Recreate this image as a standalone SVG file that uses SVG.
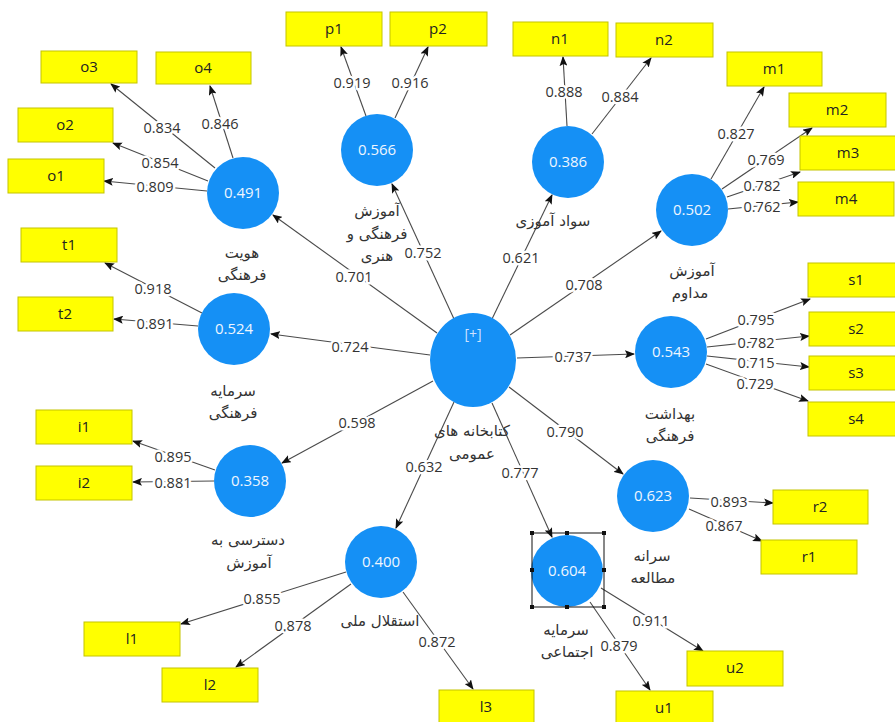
<svg xmlns="http://www.w3.org/2000/svg" width="895" height="722" viewBox="0 0 895 722">
<defs>
<marker id="ah" markerWidth="10" markerHeight="8" refX="9" refY="4" orient="auto" markerUnits="userSpaceOnUse">
<path d="M0,0 L10,4 L0,8 L2,4 Z" fill="#111"/>
</marker>
<style>
.ln{stroke:#4a4a4a;stroke-width:1.1;fill:none;marker-end:url(#ah)}
.bx rect{fill:#ffff00;stroke:#c4c400;stroke-width:1}
.bx text{font-family:"Open Sans","Noto Sans",sans-serif;font-size:15px;fill:#222;text-anchor:middle}
.lv circle,.lv ellipse{fill:#1590f5}
.lv text.v{font-family:"Open Sans","Noto Sans",sans-serif;font-size:15px;fill:#eef6ff;text-anchor:middle}
.fa{font-family:"DejaVu Sans",sans-serif;font-size:15px;fill:#333;text-anchor:middle}
.num{font-family:"Open Sans","Noto Sans",sans-serif;font-size:14.5px;fill:#333;text-anchor:middle;stroke:#fff;stroke-width:5;stroke-linejoin:round;paint-order:stroke}
.hd{fill:#111}
</style>
</defs>
<rect width="895" height="722" fill="#fff"/>

<g id="connectors">
<line class="ln" x1="437" y1="333" x2="273" y2="215"/>
<line class="ln" x1="454" y1="319" x2="392" y2="184"/>
<line class="ln" x1="492" y1="319" x2="552" y2="195"/>
<line class="ln" x1="510" y1="335" x2="661" y2="231"/>
<line class="ln" x1="517" y1="358" x2="634" y2="354"/>
<line class="ln" x1="509" y1="387" x2="623" y2="474"/>
<line class="ln" x1="492" y1="403" x2="552" y2="537"/>
<line class="ln" x1="454" y1="402" x2="396" y2="528"/>
<line class="ln" x1="433" y1="381" x2="282" y2="463"/>
<line class="ln" x1="430" y1="355" x2="271" y2="334"/>
<line class="ln" x1="215" y1="168" x2="111" y2="84"/>
<line class="ln" x1="233" y1="158" x2="210" y2="86"/>
<line class="ln" x1="208" y1="181" x2="113" y2="143"/>
<line class="ln" x1="207" y1="191" x2="104" y2="181"/>
<line class="ln" x1="366" y1="116" x2="341" y2="47"/>
<line class="ln" x1="395" y1="118" x2="428" y2="47"/>
<line class="ln" x1="567" y1="126" x2="563" y2="57"/>
<line class="ln" x1="592" y1="134" x2="651" y2="58"/>
<line class="ln" x1="711" y1="179" x2="764" y2="87"/>
<line class="ln" x1="722" y1="189" x2="812" y2="128"/>
<line class="ln" x1="727" y1="197" x2="800" y2="172"/>
<line class="ln" x1="728" y1="209" x2="798" y2="202"/>
<line class="ln" x1="202" y1="313" x2="105" y2="263"/>
<line class="ln" x1="198" y1="326" x2="114" y2="319"/>
<line class="ln" x1="215" y1="470" x2="133" y2="441"/>
<line class="ln" x1="214" y1="481" x2="133" y2="482"/>
<line class="ln" x1="346" y1="572" x2="181" y2="624"/>
<line class="ln" x1="351" y1="584" x2="236" y2="667"/>
<line class="ln" x1="403" y1="592" x2="473" y2="689"/>
<line class="ln" x1="590" y1="602" x2="650" y2="690"/>
<line class="ln" x1="601" y1="588" x2="703" y2="651"/>
<line class="ln" x1="690" y1="498" x2="773" y2="503"/>
<line class="ln" x1="689" y1="509" x2="762" y2="541"/>
<line class="ln" x1="706" y1="339" x2="810" y2="299"/>
<line class="ln" x1="707" y1="347" x2="809" y2="336"/>
<line class="ln" x1="707" y1="356" x2="809" y2="367"/>
<line class="ln" x1="706" y1="364" x2="808" y2="401"/>

<text class="num" x="354" y="282">0.701</text>
<text class="num" x="423" y="258">0.752</text>
<text class="num" x="521" y="263">0.621</text>
<text class="num" x="584" y="290">0.708</text>
<text class="num" x="573" y="362">0.737</text>
<text class="num" x="565" y="437">0.790</text>
<text class="num" x="520" y="478">0.777</text>
<text class="num" x="424" y="472">0.632</text>
<text class="num" x="357" y="428">0.598</text>
<text class="num" x="350" y="352">0.724</text>
<text class="num" x="162" y="133">0.834</text>
<text class="num" x="220" y="129">0.846</text>
<text class="num" x="160" y="168">0.854</text>
<text class="num" x="155" y="192">0.809</text>
<text class="num" x="352" y="88">0.919</text>
<text class="num" x="410" y="88">0.916</text>
<text class="num" x="564" y="97">0.888</text>
<text class="num" x="620" y="102">0.884</text>
<text class="num" x="736" y="139">0.827</text>
<text class="num" x="766" y="165">0.769</text>
<text class="num" x="762" y="191">0.782</text>
<text class="num" x="762" y="212">0.762</text>
<text class="num" x="153" y="294">0.918</text>
<text class="num" x="155" y="329">0.891</text>
<text class="num" x="173" y="462">0.895</text>
<text class="num" x="173" y="488">0.881</text>
<text class="num" x="262" y="604">0.855</text>
<text class="num" x="293" y="631">0.878</text>
<text class="num" x="437" y="647">0.872</text>
<text class="num" x="619" y="651">0.879</text>
<text class="num" x="651" y="626">0.911</text>
<text class="num" x="729" y="507">0.893</text>
<text class="num" x="724" y="531">0.867</text>
<text class="num" x="756" y="325">0.795</text>
<text class="num" x="756" y="348">0.782</text>
<text class="num" x="756" y="368">0.715</text>
<text class="num" x="755" y="389">0.729</text>
</g>

<g id="lib" class="lv">
<ellipse cx="473" cy="360" rx="43" ry="47"/>
<text class="v" x="473" y="339" style="font-size:14px;fill:#cfe2ff">[+]</text>
<text class="fa" x="472" y="436">کتابخانه های</text>
<text class="fa" x="472" y="459">عمومی</text>
</g>
<g id="hoviat" class="lv">
<circle cx="243" cy="193" r="36"/>
<text class="v" x="243" y="198">0.491</text>
<text class="fa" x="242" y="258">هویت</text>
<text class="fa" x="242" y="280">فرهنگی</text>
</g>
<g id="amoozesh-honari" class="lv">
<circle cx="377" cy="150" r="36"/>
<text class="v" x="377" y="155">0.566</text>
<text class="fa" x="377" y="216">آموزش</text>
<text class="fa" x="377" y="239">فرهنگی و</text>
<text class="fa" x="377" y="261">هنری</text>
</g>
<g id="savad" class="lv">
<circle cx="568" cy="162" r="36"/>
<text class="v" x="568" y="167">0.386</text>
<text class="fa" x="553" y="226">سواد آموزی</text>
</g>
<g id="modavem" class="lv">
<circle cx="692" cy="210" r="36"/>
<text class="v" x="692" y="215">0.502</text>
<text class="fa" x="692" y="276">آموزش</text>
<text class="fa" x="690" y="298">مداوم</text>
</g>
<g id="sarmaye-farhangi" class="lv">
<circle cx="234" cy="329" r="36"/>
<text class="v" x="234" y="334">0.524</text>
<text class="fa" x="233" y="396">سرمایه</text>
<text class="fa" x="233" y="418">فرهنگی</text>
</g>
<g id="behdasht" class="lv">
<circle cx="671" cy="352" r="36"/>
<text class="v" x="671" y="357">0.543</text>
<text class="fa" x="670" y="419">بهداشت</text>
<text class="fa" x="670" y="441">فرهنگی</text>
</g>
<g id="dastresi" class="lv">
<circle cx="250" cy="481" r="36"/>
<text class="v" x="250" y="486">0.358</text>
<text class="fa" x="248" y="545">دسترسی به</text>
<text class="fa" x="249" y="568">آموزش</text>
</g>
<g id="esteghlal" class="lv">
<circle cx="381" cy="562" r="36"/>
<text class="v" x="381" y="567">0.400</text>
<text class="fa" x="380" y="626">استقلال ملی</text>
</g>
<g id="sarmaye-ejtemaei" class="lv">
<circle cx="567" cy="571" r="36"/>
<text class="v" x="567" y="576">0.604</text>
<text class="fa" x="566" y="635">سرمایه</text>
<text class="fa" x="567" y="657">اجتماعی</text>
<rect x="532" y="533" width="72" height="74" fill="none" stroke="#111" stroke-width="1"/>
<rect class="hd" x="530" y="531" width="4" height="4"/>
<rect class="hd" x="565" y="531" width="4" height="4"/>
<rect class="hd" x="602" y="531" width="4" height="4"/>
<rect class="hd" x="530" y="568" width="4" height="4"/>
<rect class="hd" x="602" y="568" width="4" height="4"/>
<rect class="hd" x="530" y="605" width="4" height="4"/>
<rect class="hd" x="565" y="605" width="4" height="4"/>
<rect class="hd" x="602" y="605" width="4" height="4"/>
</g>
<g id="saraneh" class="lv">
<circle cx="653" cy="496" r="36"/>
<text class="v" x="653" y="501">0.623</text>
<text class="fa" x="652" y="561">سرانه</text>
<text class="fa" x="653" y="583">مطالعه</text>
</g>

<g id="o3" class="bx"><rect x="41" y="51" width="96" height="32"/><text x="89" y="72">o3</text></g>
<g id="o4" class="bx"><rect x="156" y="52" width="95" height="32"/><text x="203" y="73">o4</text></g>
<g id="o2" class="bx"><rect x="18" y="108" width="95" height="34"/><text x="65" y="130">o2</text></g>
<g id="o1" class="bx"><rect x="8" y="159" width="96" height="34"/><text x="56" y="181">o1</text></g>
<g id="p1" class="bx"><rect x="286" y="12" width="96" height="34"/><text x="334" y="34">p1</text></g>
<g id="p2" class="bx"><rect x="390" y="12" width="97" height="34"/><text x="438" y="34">p2</text></g>
<g id="n1" class="bx"><rect x="513" y="22" width="95" height="34"/><text x="560" y="44">n1</text></g>
<g id="n2" class="bx"><rect x="616" y="23" width="97" height="34"/><text x="664" y="45">n2</text></g>
<g id="m1" class="bx"><rect x="727" y="52" width="95" height="34"/><text x="774" y="74">m1</text></g>
<g id="m2" class="bx"><rect x="789" y="93" width="97" height="34"/><text x="837" y="115">m2</text></g>
<g id="m3" class="bx"><rect x="800" y="136" width="96" height="34"/><text x="848" y="158">m3</text></g>
<g id="m4" class="bx"><rect x="798" y="182" width="96" height="34"/><text x="846" y="204">m4</text></g>
<g id="t1" class="bx"><rect x="21" y="228" width="96" height="34"/><text x="69" y="250">t1</text></g>
<g id="t2" class="bx"><rect x="18" y="297" width="95" height="34"/><text x="65" y="319">t2</text></g>
<g id="i1" class="bx"><rect x="36" y="410" width="96" height="34"/><text x="84" y="432">i1</text></g>
<g id="i2" class="bx"><rect x="36" y="466" width="96" height="34"/><text x="84" y="488">i2</text></g>
<g id="l1" class="bx"><rect x="84" y="622" width="96" height="34"/><text x="132" y="644">l1</text></g>
<g id="l2" class="bx"><rect x="162" y="668" width="96" height="34"/><text x="210" y="690">l2</text></g>
<g id="l3" class="bx"><rect x="439" y="690" width="95" height="34"/><text x="486" y="712">l3</text></g>
<g id="s1" class="bx"><rect x="808" y="263" width="96" height="34"/><text x="856" y="285">s1</text></g>
<g id="s2" class="bx"><rect x="809" y="312" width="96" height="34"/><text x="856" y="334">s2</text></g>
<g id="s3" class="bx"><rect x="809" y="356" width="96" height="34"/><text x="856" y="378">s3</text></g>
<g id="s4" class="bx"><rect x="808" y="402" width="96" height="34"/><text x="856" y="424">s4</text></g>
<g id="r2" class="bx"><rect x="773" y="490" width="95" height="34"/><text x="820" y="512">r2</text></g>
<g id="r1" class="bx"><rect x="761" y="540" width="96" height="34"/><text x="809" y="562">r1</text></g>
<g id="u2" class="bx"><rect x="687" y="651" width="96" height="35"/><text x="735" y="673">u2</text></g>
<g id="u1" class="bx"><rect x="616" y="691" width="97" height="34"/><text x="664" y="713">u1</text></g>
</svg>
